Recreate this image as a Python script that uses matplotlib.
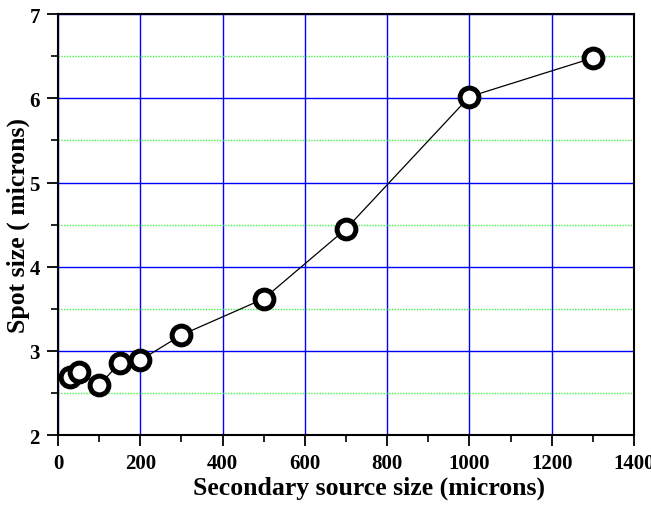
import numpy as np
import matplotlib
matplotlib.use("Agg")
import matplotlib.pyplot as plt
from matplotlib.ticker import MultipleLocator

# data
source_size = [30, 50, 100, 150, 200, 300, 500, 700, 1000, 1300]
spot_size = [2.69, 2.75, 2.59, 2.86, 2.89, 3.19, 3.62, 4.45, 6.02, 6.48]

plt.rcParams['font.family'] = ['Liberation Serif', 'DejaVu Serif']
plt.rcParams['font.weight'] = 'bold'

fig = plt.figure(figsize=(6.51, 5.06), dpi=100)
ax = fig.add_axes([0.089, 0.138, 0.885, 0.832])

ax.set_xlim(0, 1400)
ax.set_ylim(2, 7)
ax.xaxis.set_major_locator(MultipleLocator(200))
ax.xaxis.set_minor_locator(MultipleLocator(100))
ax.yaxis.set_major_locator(MultipleLocator(1))
ax.yaxis.set_minor_locator(MultipleLocator(0.5))

ax.grid(which='major', color='#0000ff', linewidth=1.0, linestyle='-')
ax.yaxis.grid(which='minor', color='#44ee44', linewidth=1.0,
              linestyle=(0, (1, 1)))
ax.set_axisbelow(True)

ax.plot(source_size, spot_size, '-', color='black', linewidth=0.9, zorder=3)
ax.plot(source_size, spot_size, 'o', markersize=13.5, markerfacecolor='white',
        markeredgecolor='black', markeredgewidth=3.6, zorder=4, clip_on=False)

ax.tick_params(which='major', direction='out', length=8, width=1.3,
               labelsize=15, top=False, right=False, pad=5)
ax.tick_params(which='minor', direction='out', length=5, width=1.2,
               top=False, right=False)
for sp in ax.spines.values():
    sp.set_linewidth(1.5)

ax.set_xlabel('Secondary source size (microns)', fontsize=18.5, fontweight='bold')
ax.set_ylabel('Spot size ( microns)', fontsize=18.5, fontweight='bold')
ax.xaxis.set_label_coords(0.54, -0.095)
ax.yaxis.set_label_coords(-0.048, 0.5)

fig.savefig('out.png', dpi=100)
